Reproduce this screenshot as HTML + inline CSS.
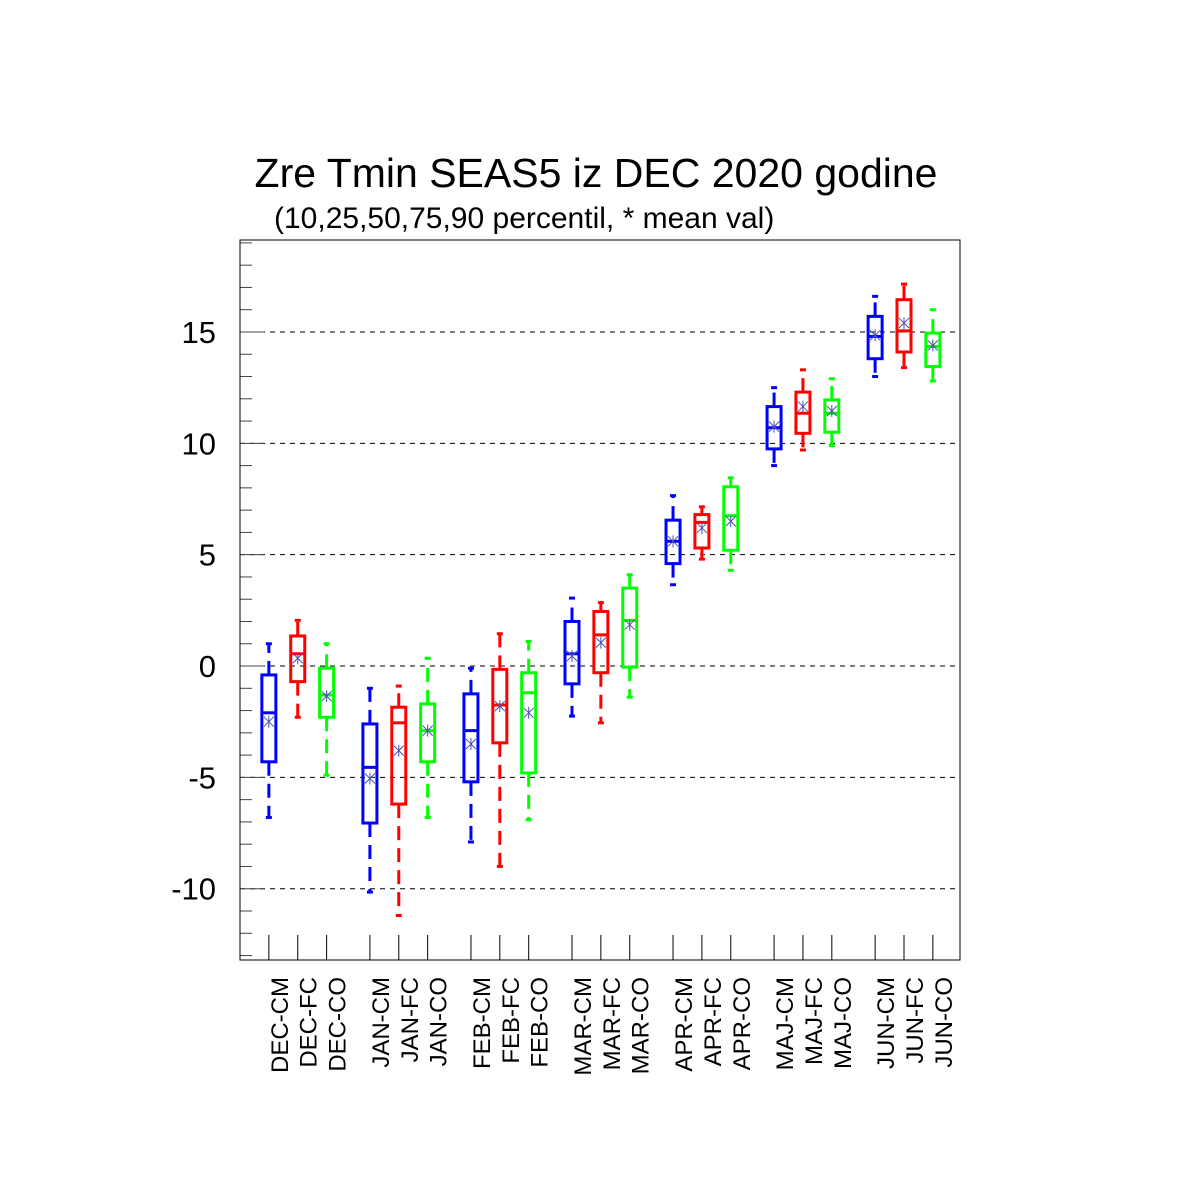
<!DOCTYPE html>
<html><head><meta charset="utf-8"><style>
body{margin:0;background:#fff;}
svg{display:block;font-family:"Liberation Sans",Arial,sans-serif;}
</style></head><body>
<svg id="chart" width="1200" height="1200" viewBox="0 0 1200 1200" xmlns="http://www.w3.org/2000/svg">
<rect width="1200" height="1200" fill="#fff"/>
<text x="596" y="187" font-size="41" text-anchor="middle">Zre Tmin SEAS5 iz DEC 2020 godine</text>
<text x="274" y="228" font-size="30">(10,25,50,75,90 percentil, * mean val)</text>
<g id="grid"></g>
<g id="axes"></g>
<g id="marks"></g>
</svg>
<script>
const categories=["DEC-CM","DEC-FC","DEC-CO","JAN-CM","JAN-FC","JAN-CO","FEB-CM","FEB-FC","FEB-CO","MAR-CM","MAR-FC","MAR-CO","APR-CM","APR-FC","APR-CO","MAJ-CM","MAJ-FC","MAJ-CO","JUN-CM","JUN-FC","JUN-CO"];
const p10=[-6.8,-2.3,-4.9,-10.15,-11.2,-6.8,-7.9,-9.0,-6.9,-2.25,-2.55,-1.4,3.65,4.8,4.3,9.0,9.7,9.9,13.0,13.4,12.8];
const p25=[-4.3,-0.7,-2.3,-7.05,-6.2,-4.3,-5.2,-3.45,-4.8,-0.8,-0.3,-0.05,4.6,5.3,5.2,9.75,10.45,10.5,13.8,14.1,13.45];
const p50=[-2.1,0.55,-1.3,-4.55,-2.55,-2.9,-2.9,-1.75,-1.2,0.55,1.4,2.05,5.6,6.45,6.75,10.7,11.35,11.35,14.8,15.05,14.35];
const p75=[-0.4,1.35,-0.1,-2.6,-1.85,-1.7,-1.25,-0.15,-0.3,2.0,2.45,3.5,6.55,6.8,8.05,11.65,12.3,11.95,15.7,16.45,14.95];
const p90=[1.0,2.05,1.0,-1.0,-0.9,0.35,-0.1,1.45,1.1,3.05,2.85,4.1,7.65,7.15,8.45,12.5,13.3,12.9,16.6,17.15,16.0];
const means=[-2.5,0.35,-1.35,-5.05,-3.8,-2.9,-3.5,-1.8,-2.1,0.45,1.05,1.85,5.6,6.2,6.5,10.75,11.65,11.45,14.85,15.4,14.4];
const seriesColors=["#0000ff","#ff0000","#00ff00"];
const yTicks=[-10,-5,0,5,10,15];
const yLabels=["-10","-5","0","5","10","15"];

const L=240,R=960,T=240,B=960,yMin=-13.2,yMax=19.13;
const NS="http://www.w3.org/2000/svg";
function y(v){return B-(v-yMin)/(yMax-yMin)*(B-T);}
function x(i){const g=Math.floor(i/3);return L+(1+i+0.5*g)*(R-L)/24.94;}
function mk(tag,attrs,parent){const e=document.createElementNS(NS,tag);for(const k in attrs)e.setAttribute(k,attrs[k]);parent.appendChild(e);return e;}
const grid=document.getElementById('grid'),axes=document.getElementById('axes'),marks=document.getElementById('marks');

yTicks.forEach((t,k)=>{
  const gl=mk('line',{x1:L,x2:R,y1:y(t),y2:y(t),stroke:'#000','stroke-width':1,'stroke-dasharray':'5,5'},grid);
  
  
  const tl=mk('text',{x:216,y:y(t)+11,'font-size':31,'text-anchor':'end'},axes);
  tl.textContent=yLabels[k];
  
  
});
for(let v=-13;v<=19;v++){
  const major=v%5===0;
  const tk=mk('line',{x1:L,x2:L+(major?24:12),y1:y(v),y2:y(v),stroke:'#444','stroke-width':1},axes);
  
  
}
const frame=mk('rect',{x:L,y:T,width:R-L,height:B-T,fill:'none',stroke:'#000','stroke-width':1},axes);



categories.forEach((c,i)=>{
  const cx=x(i),col=seriesColors[i%3],g=document.createElementNS(NS,'g');
  
  
  marks.appendChild(g);
  const tk=mk('line',{x1:cx,x2:cx,y1:B-25,y2:B,stroke:'#000','stroke-width':1},axes);
  
  
  const lb=mk('text',{x:0,y:0,'font-size':24,'text-anchor':'end',transform:'translate('+(cx+19)+',977) rotate(-90)'},axes);
  lb.textContent=c;
  
  
  const w=7;
  mk('line',{x1:cx,x2:cx,y1:y(p75[i]),y2:y(p90[i]),stroke:col,'stroke-width':3,'stroke-dasharray':'14,8'},g);
  mk('line',{x1:cx,x2:cx,y1:y(p25[i]),y2:y(p10[i]),stroke:col,'stroke-width':3,'stroke-dasharray':'14,8'},g);
  mk('line',{x1:cx-3,x2:cx+3,y1:y(p90[i]),y2:y(p90[i]),stroke:col,'stroke-width':3},g);
  mk('line',{x1:cx-3,x2:cx+3,y1:y(p10[i]),y2:y(p10[i]),stroke:col,'stroke-width':3},g);
  mk('rect',{x:cx-w,y:y(p75[i]),width:2*w,height:y(p25[i])-y(p75[i]),fill:'none',stroke:col,'stroke-width':3},g);
  mk('line',{x1:cx-w,x2:cx+w,y1:y(p50[i]),y2:y(p50[i]),stroke:col,'stroke-width':3},g);
  const my=y(means[i]),s=5;
  mk('path',{d:`M${cx-s} ${my-s}L${cx+s} ${my+s}M${cx-s} ${my+s}L${cx+s} ${my-s}M${cx} ${my-s-1}L${cx} ${my+s+1}`,stroke:'#4a52b0','stroke-width':1},g);
});
</script>
</body></html>
